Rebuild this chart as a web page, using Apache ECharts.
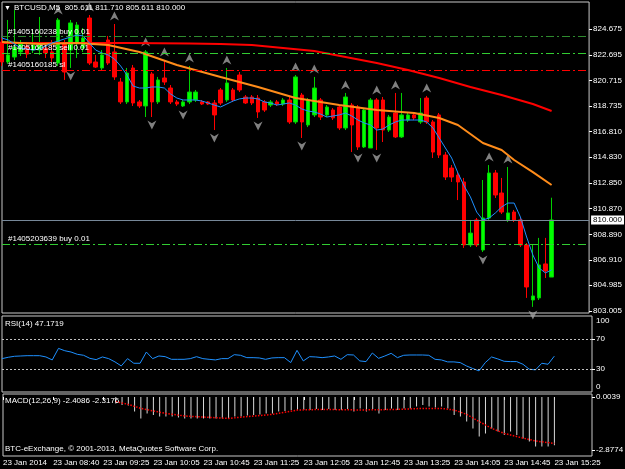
<!DOCTYPE html>
<html>
<head>
<meta charset="utf-8">
<title>BTCUSD,M5</title>
<script src="https://cdn.jsdelivr.net/npm/echarts@6/dist/echarts.min.js"></script>
<style>
html, body { margin: 0; padding: 0; background: #000; }
#chart { width: 625px; height: 469px; }
</style>
</head>
<body>
<div id="chart"></div>
<script>
// BTCUSD M5, 23 Jan 2014
const open = [
  823.68, 822.14, 822.52, 822.91, 823.37, 823.06, 823.06, 823.21, 822.91, 822.06,
  823.60, 823.06, 823.60, 823.21, 825.52, 822.14, 821.68, 823.83, 822.91, 820.60,
  819.07, 821.68, 819.07, 818.76, 821.22, 819.07, 820.91, 820.14, 819.07, 818.76,
  819.07, 819.22, 819.07, 819.07, 818.99, 819.99, 819.22, 819.99, 821.14, 819.45,
  819.45, 819.37, 819.07, 818.83, 819.07, 818.91, 819.22, 817.53, 819.60, 817.30,
  818.07, 819.22, 818.07, 818.45, 818.68, 817.07, 818.83, 818.68, 815.61, 815.53,
  819.22, 819.22, 816.91, 818.22, 816.38, 817.68, 818.07, 817.53, 819.37, 817.53,
  818.07, 814.99, 813.99, 813.45, 812.92, 808.08, 810.00, 807.69, 810.15, 813.61,
  812.07, 810.00, 810.61, 810.00, 808.08, 803.85, 804.01, 806.62, 805.611
];
const close = [
  822.14, 822.68, 823.29, 823.52, 822.75, 823.45, 823.52, 822.83, 822.45, 825.37,
  821.37, 825.14, 824.98, 823.98, 822.06, 821.75, 822.68, 822.06, 820.99, 819.07,
  821.29, 818.99, 818.76, 822.91, 819.07, 820.76, 820.60, 819.07, 818.91, 819.07,
  819.83, 819.83, 818.91, 818.91, 818.07, 818.99, 820.53, 819.22, 819.99, 818.99,
  818.99, 818.30, 818.45, 819.07, 818.91, 819.22, 817.53, 820.99, 817.53, 819.22,
  820.14, 817.91, 818.68, 817.84, 817.07, 819.45, 817.30, 815.61, 818.45, 819.22,
  817.07, 816.91, 817.91, 816.38, 818.07, 818.07, 817.84, 818.22, 817.53, 815.22,
  814.99, 813.30, 813.30, 812.92, 808.08, 808.99, 808.08, 810.15, 813.61, 811.92,
  810.61, 810.54, 810.00, 808.08, 804.85, 804.16, 806.54, 806.08, 810.000
];
const low = [
  821.83, 821.99, 822.29, 822.60, 822.45, 822.83, 822.68, 822.45, 822.14, 821.83,
  820.76, 821.68, 822.45, 822.91, 821.91, 821.68, 821.52, 821.91, 820.76, 818.91,
  818.91, 818.76, 818.60, 817.91, 817.91, 818.91, 820.37, 818.91, 818.76, 818.68,
  818.91, 819.07, 818.83, 818.83, 816.91, 818.83, 819.07, 819.07, 819.83, 818.91,
  818.83, 817.84, 818.30, 818.68, 818.76, 818.76, 817.38, 817.38, 816.30, 817.14,
  817.91, 817.68, 817.91, 817.68, 816.91, 816.91, 815.22, 815.38, 815.53, 815.53,
  815.38, 815.99, 816.76, 816.30, 816.30, 817.53, 817.68, 817.38, 817.38, 814.76,
  814.76, 813.07, 812.92, 811.53, 807.85, 807.92, 807.92, 807.54, 810.00, 811.69,
  810.46, 809.84, 809.84, 807.92, 804.01, 803.32, 803.85, 805.54, 805.611
];
const high = [
  823.98, 825.37, 826.13, 823.83, 823.68, 824.60, 825.60, 823.45, 823.83, 825.52,
  823.83, 825.37, 825.21, 824.75, 825.75, 822.68, 823.06, 824.14, 825.06, 820.91,
  821.68, 821.91, 819.22, 823.06, 821.37, 820.99, 822.29, 820.37, 819.22, 819.22,
  821.83, 819.99, 819.22, 819.14, 819.22, 820.14, 821.68, 820.14, 821.37, 819.60,
  819.60, 819.60, 819.22, 819.22, 819.22, 819.37, 819.45, 821.14, 819.76, 819.37,
  820.99, 819.37, 818.83, 818.60, 818.83, 819.76, 818.99, 818.83, 818.60, 819.37,
  819.37, 819.45, 818.07, 819.76, 819.76, 818.22, 818.22, 819.37, 819.53, 817.68,
  818.22, 815.22, 814.22, 813.69, 813.23, 810.00, 810.15, 813.07, 814.22, 813.84,
  813.23, 814.07, 810.77, 810.15, 808.23, 808.08, 808.62, 808.62, 811.710
];

// fast moving average (blue), one value per bar
const maFast = [
  823.98, 823.83, 823.52, 823.21, 823.14, 823.06, 823.14, 823.37, 823.60, 823.75,
  823.91, 824.06, 824.21, 824.14, 823.60, 823.06, 822.83, 822.68, 822.37, 821.83,
  821.14, 820.29, 820.14, 820.14, 820.22, 820.22, 820.14, 819.68, 819.37, 819.22,
  819.22, 819.22, 819.14, 818.99, 818.83, 818.68, 818.91, 819.14, 819.30, 819.37,
  819.37, 819.30, 819.07, 818.99, 818.83, 818.91, 818.99, 818.83, 818.53, 818.37,
  818.30, 818.14, 817.91, 817.99, 818.07, 818.22, 817.99, 817.68, 817.45, 817.30,
  816.91, 816.99, 817.30, 817.53, 817.68, 817.68, 817.68, 817.68, 817.53, 817.07,
  816.30, 815.53, 814.76, 813.61, 812.61, 811.77, 810.61, 810.00, 810.15, 810.54,
  811.00, 811.30, 811.30, 810.23, 808.69, 807.31, 806.31, 805.93, 806.16
];
// medium (orange) and slow (red) averages, read at [bar, price]
const maMid = [
  [0, 823.68], [6, 823.52], [12, 823.60], [17, 823.45], [22, 822.91], [28, 821.91],
  [35, 820.99], [41, 820.22], [47, 819.37], [54, 818.83], [60, 818.45], [66, 818.22],
  [70, 817.84], [73, 817.30], [77, 815.91], [80, 815.38], [82, 814.61], [85, 813.68],
  [88, 812.69]
];
const maSlow = [
  [0, 823.60], [10, 823.60], [20, 823.60], [30, 823.57], [35, 823.52], [40, 823.45],
  [45, 823.22], [50, 822.98], [55, 822.52], [60, 822.06], [65, 821.52], [70, 820.91],
  [75, 820.22], [80, 819.60], [85, 818.91], [88, 818.37]
];

const fractalUp = [9, 14, 18, 23, 26, 30, 36, 47, 50, 55, 60, 63, 68, 78, 81];
const fractalDown = [11, 24, 29, 34, 41, 48, 57, 60, 77, 85];

const orderLevels = [824.08, 822.81, 821.52, 808.13];
const orderLabels = ['#1405160238 buy 0.01', '#1405160185 sell 0.01', '#1405160185 sl', '#1405203639 buy 0.01'];
const bid = 810.000;

const rsi = [
  43.9, 45.7, 47.0, 47.4, 47.8, 47.8, 47.8, 46.1, 42.2, 57.4,
  54.3, 52.6, 49.6, 48.3, 44.3, 42.6, 46.1, 43.9, 39.6, 34.3,
  43.9, 37.8, 37.8, 52.6, 43.9, 47.4, 46.5, 43.0, 43.0, 43.0,
  43.9, 46.5, 43.9, 43.0, 42.2, 43.9, 43.9, 49.1, 48.3, 45.2,
  45.2, 44.8, 43.0, 44.8, 45.2, 45.2, 38.7, 54.8, 40.9, 46.5,
  46.1, 45.2, 46.1, 47.4, 43.0, 49.1, 48.7, 40.9, 40.0, 51.3,
  44.3, 47.4, 50.9, 45.2, 48.3, 48.7, 48.7, 48.7, 48.3, 43.0,
  42.2, 39.6, 39.6, 38.7, 34.3, 30.9, 27.8, 38.7, 46.1, 43.5,
  40.4, 40.0, 40.0, 36.5, 30.0, 29.1, 37.8, 36.5, 47.17
];

// MACD main (histogram) starts at bar 18
const macdStart = 18;
const macdMain = [
  -0.32, -0.40, -0.43, -0.73, -1.07, -0.82, -0.90, -0.98, -0.98, -0.98,
  -1.03, -1.07, -1.07, -1.07, -1.07, -1.07, -1.07, -1.07, -1.07, -0.98,
  -0.98, -0.93, -0.90, -0.87, -0.82, -0.82, -0.73, -0.70, -0.65, -0.65,
  -0.65, -0.65, -0.60, -0.65, -0.60, -0.65, -0.65, -0.60, -0.73, -0.57,
  -0.73, -0.60, -0.82, -0.65, -0.57, -0.65, -0.57, -0.57, -0.48, -0.40,
  -0.48, -0.53, -0.48, -0.57, -0.90, -0.98, -1.23, -1.57, -1.98, -1.82,
  -1.57, -1.73, -1.90, -1.73, -1.90, -2.07, -2.23, -2.48, -2.48, -2.48, -2.41
];
const macdSignal = [
  [18, -0.23], [20, -0.37], [22, -0.57], [24, -0.70], [26, -0.82], [29, -0.95],
  [33, -1.02], [36, -1.07], [39, -0.98], [43, -0.87], [47, -0.65], [51, -0.62],
  [57, -0.65], [63, -0.62], [67, -0.57], [70, -0.57], [72, -0.65], [74, -0.87],
  [76, -1.23], [78, -1.57], [80, -1.82], [82, -1.98], [85, -2.20], [88, -2.32]
];

const priceTicks = [824.675, 822.695, 820.715, 818.735, 816.810, 814.830, 812.850,
  810.870, 808.890, 806.910, 804.985, 803.005];
const rsiLevels = [70, 30];
const rsiEdge = ['100', '0'];
const macdEdge = ['0.0039', '-2.8774'];
const timeLabels = ['23 Jan 2014', '23 Jan 08:40', '23 Jan 09:25', '23 Jan 10:05',
  '23 Jan 10:45', '23 Jan 11:25', '23 Jan 12:05', '23 Jan 12:45', '23 Jan 13:25',
  '23 Jan 14:05', '23 Jan 14:45', '23 Jan 15:25'];

// 89 bars plus empty chart shift on the right
const slots = [];
for (let i = 0; i < 95; i++) slots.push(String(i));

const candleData = open.map((o, i) => [o, close[i], low[i], high[i]]);
const font = 'Liberation Sans';
const txt = '#ffffff';
const dashDot = [8, 3, 2, 3];
const orderColors = ['#2e8b2e', '#32cd32', '#ff0000', '#32cd32'];

const chart = echarts.init(document.getElementById('chart'));

function xAx(idx, showLabels) {
  return {
    type: 'category',
    gridIndex: idx,
    data: slots,
    boundaryGap: false,
    axisLine: { show: false },
    axisTick: {
      show: showLabels,
      interval: 7,
      length: 3,
      lineStyle: { color: txt }
    },
    axisLabel: {
      show: showLabels,
      interval: 7,
      align: 'left',
      margin: 3,
      color: txt,
      fontSize: 8,
      fontFamily: font,
      formatter: (v, i) => timeLabels[i / 8]
    },
    splitLine: { show: false }
  };
}

function yAx(idx, min, max, ticks, labels, fmt) {
  return {
    type: 'value',
    gridIndex: idx,
    position: 'right',
    min: min,
    max: max,
    splitLine: { show: false },
    axisLine: { show: false },
    axisTick: {
      show: true,
      length: 3,
      customValues: ticks,
      lineStyle: { color: txt }
    },
    axisLabel: {
      show: labels.length > 0,
      customValues: labels,
      color: txt,
      fontSize: 8,
      fontFamily: font,
      margin: 4,
      formatter: fmt
    }
  };
}

function label(x, y, text) {
  return {
    type: 'text', x: x, y: y, z: 100,
    style: { text: text, fill: txt, fontSize: 8, fontFamily: font, verticalAlign: 'middle' }
  };
}

const gridStyle = { show: true, borderColor: '#c8c8c8', borderWidth: 1, backgroundColor: '#000' };

const orderLines = orderLevels.map((p, k) => ({
  yAxis: p,
  lineStyle: { color: orderColors[k], type: dashDot, width: 1 },
  label: {
    show: true,
    position: 'insideStartTop',
    formatter: orderLabels[k],
    color: txt,
    fontSize: 8,
    fontFamily: font,
    distance: [6, 1]
  }
}));
orderLines.push({
  yAxis: bid,
  lineStyle: { color: '#778899', type: 'solid', width: 1 },
  label: {
    show: true,
    position: 'end',
    formatter: bid.toFixed(3),
    color: '#000',
    backgroundColor: '#fff',
    padding: [1, 2, 0, 2],
    fontSize: 8,
    fontFamily: font,
    distance: 2
  }
});

const option = {
  backgroundColor: '#000',
  animation: false,
  grid: [
    Object.assign({ left: 2, right: 33, top: 2, height: 311 }, gridStyle),
    Object.assign({ left: 2, right: 33, top: 316, height: 76 }, gridStyle),
    Object.assign({ left: 2, right: 33, top: 394, height: 62 }, gridStyle)
  ],
  xAxis: [xAx(0, false), xAx(1, false), xAx(2, true)],
  yAxis: [
    yAx(0, 802.85, 826.75, priceTicks, priceTicks, v => v.toFixed(3)),
    yAx(1, 0, 100, rsiLevels, rsiLevels, v => String(v)),
    yAx(2, -2.95, 0.15, [0.0039, -2.65], [], v => v.toFixed(4))
  ],
  graphic: [
    { type: 'text', x: 4, y: 8, z: 100, style: { text: '▼', fill: txt, fontSize: 7, fontFamily: font, verticalAlign: 'middle' } },
    label(14, 8, 'BTCUSD,M5  805.611 811.710 805.611 810.000'),
    label(5, 324, 'RSI(14) 47.1719'),
    label(596, 321, rsiEdge[0]),
    label(596, 387, rsiEdge[1]),
    label(5, 401, 'MACD(12,26,9) -2.4086 -2.3176'),
    label(596, 397, macdEdge[0]),
    label(596, 450, macdEdge[1]),
    label(5, 449, 'BTC-eExchange, © 2001-2013, MetaQuotes Software Corp.')
  ],
  series: [
    {
      type: 'candlestick',
      xAxisIndex: 0,
      yAxisIndex: 0,
      data: candleData,
      barWidth: 4,
      itemStyle: {
        color: '#00ff00',
        color0: '#ff0000',
        borderColor: '#00d000',
        borderColor0: '#ff0000',
        borderWidth: 1
      },
      markLine: {
        silent: true,
        symbol: ['none', 'none'],
        data: orderLines
      }
    },
    {
      type: 'line', xAxisIndex: 0, yAxisIndex: 0, data: maSlow,
      showSymbol: false, lineStyle: { color: '#ff0000', width: 2 }
    },
    {
      type: 'line', xAxisIndex: 0, yAxisIndex: 0, data: maMid,
      showSymbol: false, lineStyle: { color: '#ff8c1a', width: 2 }
    },
    {
      type: 'line', xAxisIndex: 0, yAxisIndex: 0, data: maFast,
      showSymbol: false, lineStyle: { color: '#1e90ff', width: 1 }
    },
    {
      type: 'scatter', xAxisIndex: 0, yAxisIndex: 0,
      data: fractalUp.map(i => [i, high[i]]),
      symbol: 'path://M5,0L10,10L5,7L0,10Z',
      symbolSize: [9, 9],
      symbolOffset: [0, -8],
      itemStyle: { color: '#a0a0a0' }
    },
    {
      type: 'scatter', xAxisIndex: 0, yAxisIndex: 0,
      data: fractalDown.map(i => [i, low[i]]),
      symbol: 'path://M0,0L5,3L10,0L5,10Z',
      symbolSize: [9, 9],
      symbolOffset: [0, 8],
      itemStyle: { color: '#a0a0a0' }
    },
    {
      type: 'line', xAxisIndex: 1, yAxisIndex: 1, data: rsi,
      showSymbol: false, lineStyle: { color: '#1e90ff', width: 1 },
      markLine: {
        silent: true,
        symbol: ['none', 'none'],
        label: { show: false },
        lineStyle: { color: '#c0c0c0', type: [2, 2], width: 1 },
        data: rsiLevels.map(v => ({ yAxis: v }))
      }
    },
    {
      type: 'bar', xAxisIndex: 2, yAxisIndex: 2,
      data: macdMain.map((v, k) => [k + macdStart, v]),
      barWidth: 1,
      itemStyle: { color: '#d8d8d8' }
    },
    {
      type: 'line', xAxisIndex: 2, yAxisIndex: 2, data: macdSignal,
      showSymbol: false, lineStyle: { color: '#ff0000', width: 1.5, type: 'dotted' }
    }
  ]
};

chart.setOption(option);
</script>
</body>
</html>
